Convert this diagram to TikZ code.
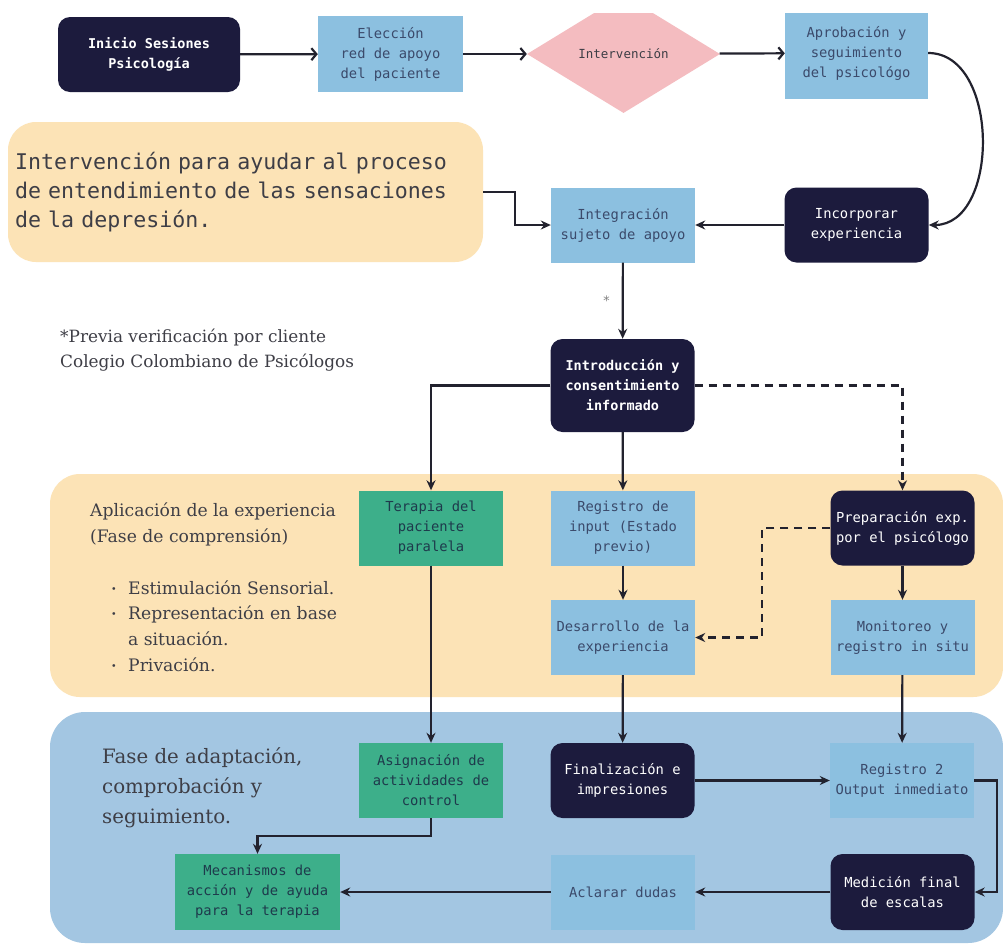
\documentclass[tikz,border=0pt]{standalone}
\usepackage{fontspec}
\usepackage{graphicx}
\setmonofont{DejaVu Sans Mono}
\newfontfamily\serifx{DejaVu Serif}
\usetikzlibrary{shapes.geometric,arrows.meta}
\definecolor{navy}{HTML}{1C1B3D}
\definecolor{lblue}{HTML}{8CC0E0}
\definecolor{slate}{HTML}{3B4A6B}
\definecolor{pinkd}{HTML}{F4BCC0}
\definecolor{peach}{HTML}{FCE3B6}
\definecolor{bandblue}{HTML}{A3C6E2}
\definecolor{greenb}{HTML}{3DAF8A}
\definecolor{gtext}{HTML}{1E3A4C}
\definecolor{linec}{HTML}{22222E}
\definecolor{notec}{HTML}{3E3E46}
\tikzset{
  box/.style={minimum width=144pt, minimum height=75pt, inner sep=2pt, align=center,
    font=\ttfamily\fontsize{13.8}{20}\selectfont},
  lbox/.style={box, fill=lblue, text=slate},
  dbox/.style={box, fill=navy, text=white, rounded corners=12pt},
  gbox/.style={box, fill=greenb, text=gtext},
  arr/.style={draw=linec, line width=2.2pt, -{Stealth[length=10pt,width=9pt]}},
  chev/.style={draw=linec, line width=2.2pt, -{Straight Barb[length=5pt,width=12pt,line width=2.2pt]}},
  dash2/.style={arr, dash pattern=on 8pt off 6pt},
  bandtxt/.style={text=notec, align=left, inner sep=0pt}
}
\begin{document}
\begin{tikzpicture}[x=1pt,y=-1pt]
\useasboundingbox (0,0) rectangle (1003,943);
\fill[white] (0,0) rectangle (1003,943);
\begin{scope}
\clip (0,13) rectangle (1003,943);
% bands
\fill[peach, rounded corners=30pt] (50,474) rectangle (1003,697);
\fill[bandblue, rounded corners=35pt] (50,712) rectangle (1003,943);

% band texts
\node[bandtxt, anchor=west, font=\serifx\fontsize{17.2}{26}\selectfont] (t1) at (90,524)
  {Aplicación de la experiencia\\(Fase de comprensión)};
\node[bandtxt, anchor=west, font=\serifx\fontsize{17.2}{25.7}\selectfont] (t2) at (108,626)
  {\makebox[20pt][l]{\hspace{3pt}\raisebox{2pt}{\scalebox{0.55}{\textbullet}}}Estimulación Sensorial.\\
   \makebox[20pt][l]{\hspace{3pt}\raisebox{2pt}{\scalebox{0.55}{\textbullet}}}Representación en base\\
   \makebox[20pt][l]{}a situación.\\
   \makebox[20pt][l]{\hspace{3pt}\raisebox{2pt}{\scalebox{0.55}{\textbullet}}}Privación.};
\node[bandtxt, anchor=west, font=\serifx\fontsize{19.8}{30}\selectfont] (t3) at (102,788)
  {Fase de adaptación,\\comprobación y\\seguimiento.};
\node[bandtxt, anchor=west, font=\serifx\fontsize{16.9}{25}\selectfont] (note) at (60,350)
  {*Previa verificación por cliente\\Colegio Colombiano de Psicólogos};

% top row
\node[dbox, minimum width=182pt, font=\ttfamily\bfseries\fontsize{13.5}{20}\selectfont] (ini) at (149,54.5) {Inicio Sesiones\\Psicología};
\node[lbox, minimum width=145pt, minimum height=76pt] (ele) at (390.5,54) {Elección\\red de apoyo\\del paciente};
\node[diamond, fill=pinkd, text=notec, minimum width=193pt, minimum height=118pt, aspect=1.64, inner sep=0pt,
  font=\ttfamily\fontsize{12.5}{16}\selectfont] (int) at (623.5,54) {Intervención};
\node[lbox, minimum width=143pt, minimum height=92pt] (apr) at (856.5,53) {Aprobación y\\seguimiento\\del psicológo};

% objective box
\node[fill=peach, rounded corners=28pt, minimum width=475pt, minimum height=140pt, text width=461pt,
  inner xsep=7pt, align=left, text=notec, font=\ttfamily\fontsize{21.6}{29}\selectfont] (obj) at (245.5,192)
  {Intervención para ayudar al proceso\\de entendimiento de las sensaciones\\de la depresión.};

\node[lbox] (itg) at (623,225) {Integración\\sujeto de apoyo};
\node[dbox] (inc) at (856.5,225) {Incorporar\\experiencia};

\node[dbox, minimum height=93pt, font=\ttfamily\bfseries\fontsize{13.5}{20}\selectfont] (intro) at (622.5,385.5) {Introducción y\\consentimiento\\informado};

% band 1 nodes
\node[gbox] (ter) at (431,528) {Terapia del\\paciente\\paralela};
\node[lbox] (reg) at (623,528) {Registro de\\input (Estado\\previo)};
\node[dbox] (pre) at (902.5,528) {Preparación exp.\\por el psicólogo};
\node[lbox] (des) at (623,637.5) {Desarrollo de la\\experiencia};
\node[lbox] (mon) at (902.5,637.5) {Monitoreo y\\registro in situ};

% band 2 nodes
\node[gbox] (asi) at (431,780.5) {Asignación de\\actividades de\\control};
\node[dbox] (fin) at (622.5,780.5) {Finalización e\\impresiones};
\node[lbox] (re2) at (902,780.5) {Registro 2\\Output inmediato};
\node[gbox, minimum width=165pt, minimum height=76pt] (mec) at (257.5,892) {Mecanismos de\\acción y de ayuda\\para la terapia};
\node[lbox] (acl) at (623,892) {Aclarar dudas};
\node[dbox, minimum height=76pt] (med) at (902.5,892) {Medición final\\de escalas};

% connectors
\draw[chev] (ini) -- (ele);
\draw[chev] (ele) -- (int);
\draw[chev] (int) -- (apr);
\draw[arr] (apr.east) .. controls (1000,53) and (1000,225) .. (inc.east);
\draw[arr] (inc) -- (itg);
\draw[arr] (obj.east) -- ++(32,0) |- (itg.west);
\draw[arr] (itg) -- node[left=8pt, pos=0.5, text=gray, font=\ttfamily\fontsize{13}{13}\selectfont] {*} (intro);
\draw[arr] (intro.west) -| (ter.north);
\draw[arr] (intro) -- (reg);
\draw[dash2] (intro.east) -| (pre.north);
\draw[arr] (reg) -- (des);
\draw[arr] (pre) -- (mon);
\draw[dash2] (pre.west) -- ++(-68,0) |- (des.east);
\draw[arr] (ter) -- (asi);
\draw[arr] (des) -- (fin);
\draw[arr] (mon) -- (re2);
\draw[arr] (fin) -- (re2);
\draw[arr] (re2.east) -- ++(23,0) |- (med.east);
\draw[arr] (med) -- (acl);
\draw[arr] (acl) -- (mec);
\draw[arr] (asi.south) -- ++(0,18) -| (mec.north);
\end{scope}
\end{tikzpicture}
\end{document}
